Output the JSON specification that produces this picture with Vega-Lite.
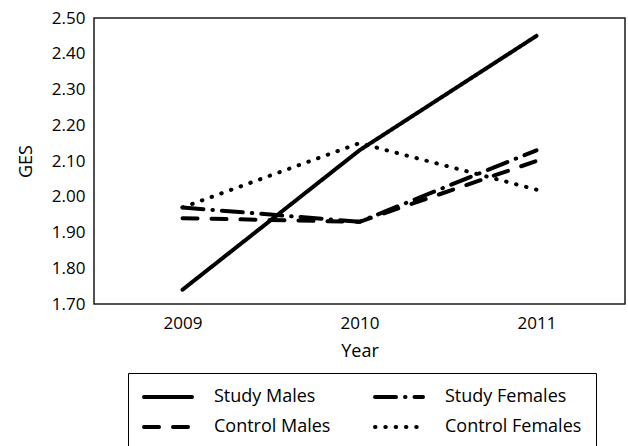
{
  "$schema": "https://vega.github.io/schema/vega-lite/v6.json",
  "width": 531,
  "height": 286,
  "autosize": {"type": "none"},
  "padding": {"left": 94, "top": 18, "right": 3, "bottom": 142},
  "background": "white",
  "config": {
    "view": {"stroke": "#1a1a1a", "strokeWidth": 1.5},
    "font": "Open Sans",
    "axis": {"labelFont": "Open Sans", "titleFont": "Open Sans", "labelColor": "#000", "titleColor": "#000", "titleFontWeight": "normal"},
    "legend": {"labelFont": "Open Sans", "labelColor": "#000"}
  },
  "data": {
    "values": [
      {"series": "Study Males", "year": "2009", "value": 1.74},
      {"series": "Study Males", "year": "2010", "value": 2.13},
      {"series": "Study Males", "year": "2011", "value": 2.45},
      {"series": "Study Females", "year": "2009", "value": 1.97},
      {"series": "Study Females", "year": "2010", "value": 1.93},
      {"series": "Study Females", "year": "2011", "value": 2.13},
      {"series": "Control Males", "year": "2009", "value": 1.94},
      {"series": "Control Males", "year": "2010", "value": 1.93},
      {"series": "Control Males", "year": "2011", "value": 2.10},
      {"series": "Control Females", "year": "2009", "value": 1.97},
      {"series": "Control Females", "year": "2010", "value": 2.15},
      {"series": "Control Females", "year": "2011", "value": 2.02}
    ]
  },
  "mark": {"type": "line", "color": "#000", "strokeWidth": 4, "strokeCap": "round", "strokeJoin": "round"},
  "encoding": {
    "x": {
      "field": "year", "type": "ordinal",
      "scale": {"type": "point", "padding": 0.5},
      "axis": {"title": "Year", "labelAngle": 0, "domain": false, "ticks": false, "grid": false, "labelFontSize": 17, "labelPadding": 11, "titleFontSize": 18, "titlePadding": 11}
    },
    "y": {
      "field": "value", "type": "quantitative",
      "scale": {"domain": [1.7, 2.5], "nice": false, "zero": false},
      "axis": {"title": "GES", "values": [1.7, 1.8, 1.9, 2.0, 2.1, 2.2, 2.3, 2.4, 2.5], "format": ".2f", "domain": false, "ticks": false, "grid": false, "labelFontSize": 17, "labelPadding": 9, "titleFontSize": 18, "titlePadding": 16}
    },
    "strokeDash": {
      "field": "series", "type": "nominal",
      "scale": {
        "domain": ["Study Males", "Control Males", "Study Females", "Control Females"],
        "range": [[1, 0], [15, 14], [21, 9, 0.5, 9], [0.5, 9.8]]
      },
      "legend": {
        "title": null,
        "orient": "none",
        "direction": "vertical",
        "legendX": 34,
        "legendY": 355,
        "columns": 2,
        "columnPadding": 42,
        "rowPadding": 10,
        "clipHeight": 20,
        "padding": 14,
        "strokeColor": "#000",
        "symbolType": "stroke",
        "symbolSize": 2304,
        "symbolStrokeWidth": 4,
        "symbolStrokeColor": "#000",
        "labelFontSize": 18,
        "labelOffset": 20,
        "encode": {"symbols": {"update": {"strokeCap": {"value": "round"}}}}
      }
    }
  }
}
